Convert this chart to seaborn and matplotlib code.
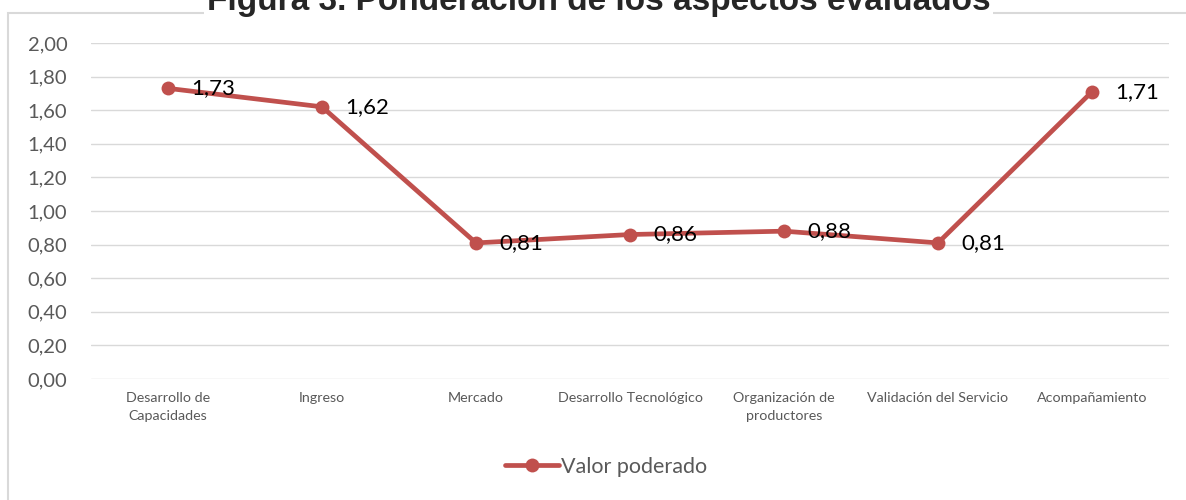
import pandas as pd
import matplotlib.pyplot as plt
import seaborn as sns
from matplotlib.patches import Rectangle

# data
categories = ["Desarrollo de\nCapacidades", "Ingreso", "Mercado", "Desarrollo Tecnológico",
              "Organización de\nproductores", "Validación del Servicio", "Acompañamiento"]
values = [1.73, 1.62, 0.81, 0.86, 0.88, 0.81, 1.71]
y_ticks = [0.0, 0.2, 0.4, 0.6, 0.8, 1.0, 1.2, 1.4, 1.6, 1.8, 2.0]
series_name = "Valor poderado"
title = "Figura 3. Ponderación de los aspectos evaluados"

df = pd.DataFrame({"pos": range(len(categories)), "valor": values})

sns.set_theme(style="white")
plt.rcParams["font.family"] = ["Lato", "DejaVu Sans"]

red = "#C0504D"
grey_txt = "#595959"
grid_c = "#D9D9D9"

fig = plt.figure(figsize=(11.86, 5.0), dpi=100)
ax = fig.add_axes([91 / 1186, 1 - 379 / 500, 1078 / 1186, 336 / 500])

# outer chart border (runs off the right and bottom edges)
fig.patches.append(Rectangle((8 / 1186, -0.1), 1.2, 1 - 13 / 500 + 0.1, transform=fig.transFigure,
                             fill=False, edgecolor=grid_c, linewidth=1.5, zorder=0))

sns.lineplot(data=df, x="pos", y="valor", ax=ax, color=red, linewidth=3.4, marker="o",
             markersize=10, markeredgewidth=0, label=series_name, sort=False)

for i, v in enumerate(values):
    ax.annotate(f"{v:.2f}".replace(".", ","), (i, v), xytext=(17, 0), textcoords="offset points",
                va="center", ha="left", fontsize=16, color="black")

ax.set_xlim(-0.5, len(categories) - 0.5)
ax.set_ylim(0, 2.0)
ax.set_yticks(y_ticks)
ax.set_yticklabels([f"{t:.2f}".replace(".", ",") for t in y_ticks], fontsize=14.5, color=grey_txt)
ax.set_xticks(range(len(categories)))
ax.set_xticklabels(categories, fontsize=10.3, color=grey_txt, linespacing=1.65, va="top")
ax.tick_params(axis="y", length=0, pad=17)
ax.tick_params(axis="x", length=0, pad=9)
ax.yaxis.grid(True, color=grid_c, linewidth=1.0)
ax.set_axisbelow(True)
for s in ax.spines.values():
    s.set_visible(False)
ax.set_xlabel("")
ax.set_ylabel("")

leg = ax.legend(loc="center", bbox_to_anchor=(0.511, 1 - 467 / 500), bbox_transform=fig.transFigure,
                frameon=False, fontsize=15.5, handlelength=2.5, handletextpad=0.1)
for t in leg.get_texts():
    t.set_color(grey_txt)

# title sits on the top border and is clipped by the image edge, as in the reference
fig.text(0.505, 1 - 10 / 500, title, ha="center", va="baseline", fontsize=24, fontweight="bold",
         family=["Liberation Sans", "DejaVu Sans"],
         bbox=dict(facecolor="white", edgecolor="none", pad=2))

fig.savefig("out.png", dpi=100)
